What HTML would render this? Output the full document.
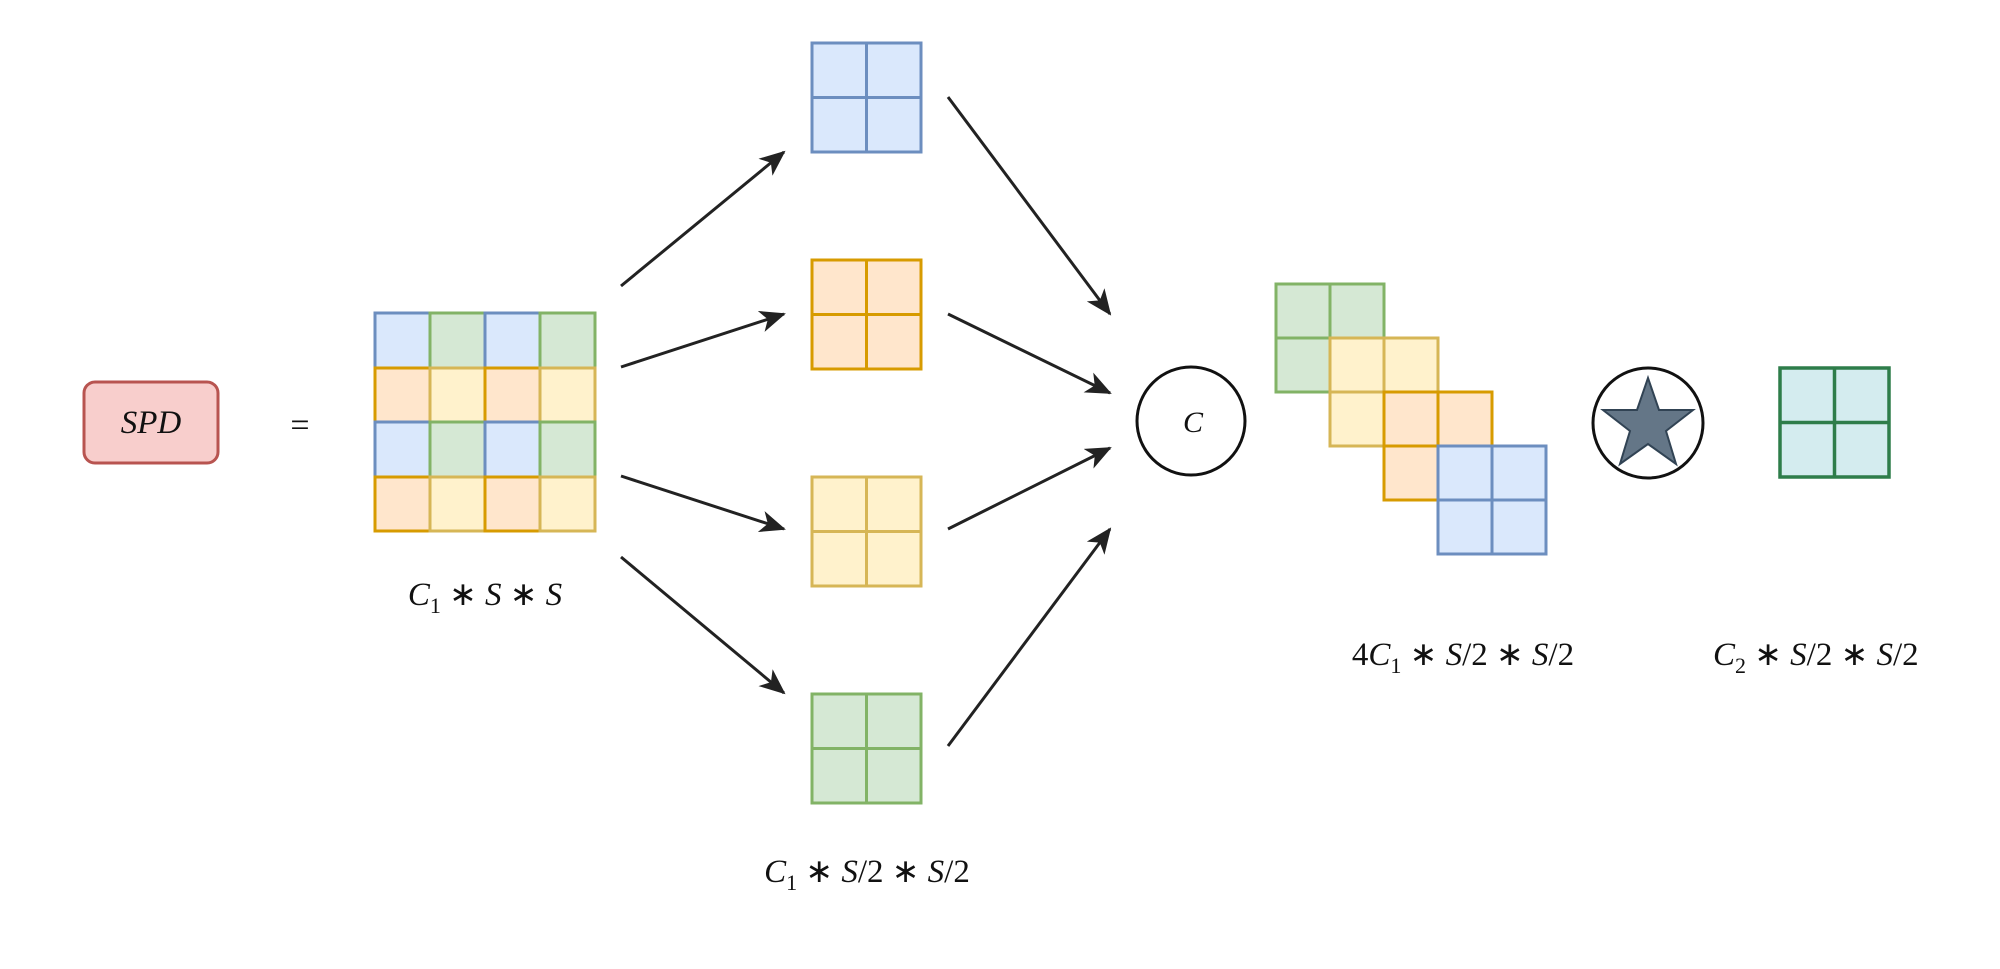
<!DOCTYPE html>
<html><head><meta charset="utf-8"><style>
html,body{margin:0;padding:0;background:#fff;}
svg{display:block}
text{font-family:"Liberation Serif",serif;font-style:italic;fill:#111;}
</style></head><body>
<svg width="2000" height="969" viewBox="0 0 2000 969" xmlns="http://www.w3.org/2000/svg">
<defs>
<marker id="a" markerWidth="10" markerHeight="10" refX="9" refY="5" orient="auto" markerUnits="userSpaceOnUse" viewBox="0 0 10 10">
<path d="M0,0 L10,5 L0,10 L3,5 z" fill="#222"/>
</marker>
<marker id="ah" markerWidth="26" markerHeight="22" refX="24" refY="11" orient="auto" markerUnits="userSpaceOnUse">
<path d="M0,0 L26,11 L0,22 L7,11 z" fill="#222"/>
</marker>
<clipPath id="clip"><rect x="0" y="0" width="1928" height="969"/></clipPath>
</defs>

<!-- SPD -->
<rect x="84" y="382" width="134" height="81" rx="11" fill="#f8cecc" stroke="#b85450" stroke-width="3"/>
<text x="151" y="433" font-size="33" text-anchor="middle">SPD</text>
<text x="300" y="436" font-size="34" text-anchor="middle" style="font-style:normal">=</text>

<!-- big grid -->
<g stroke-width="3">
<rect x="375" y="313" width="55" height="55" fill="#dae8fc" stroke="#6c8ebf"/>
<rect x="430" y="313" width="55" height="55" fill="#d5e8d4" stroke="#82b366"/>
<rect x="485" y="313" width="55" height="55" fill="#dae8fc" stroke="#6c8ebf"/>
<rect x="540" y="313" width="55" height="55" fill="#d5e8d4" stroke="#82b366"/>
<rect x="375" y="368" width="55" height="54" fill="#ffe6cc" stroke="#d79b00"/>
<rect x="430" y="368" width="55" height="54" fill="#fff2cc" stroke="#d6b656"/>
<rect x="485" y="368" width="55" height="54" fill="#ffe6cc" stroke="#d79b00"/>
<rect x="540" y="368" width="55" height="54" fill="#fff2cc" stroke="#d6b656"/>
<rect x="375" y="422" width="55" height="55" fill="#dae8fc" stroke="#6c8ebf"/>
<rect x="430" y="422" width="55" height="55" fill="#d5e8d4" stroke="#82b366"/>
<rect x="485" y="422" width="55" height="55" fill="#dae8fc" stroke="#6c8ebf"/>
<rect x="540" y="422" width="55" height="55" fill="#d5e8d4" stroke="#82b366"/>
<rect x="375" y="477" width="55" height="54" fill="#ffe6cc" stroke="#d79b00"/>
<rect x="430" y="477" width="55" height="54" fill="#fff2cc" stroke="#d6b656"/>
<rect x="485" y="477" width="55" height="54" fill="#ffe6cc" stroke="#d79b00"/>
<rect x="540" y="477" width="55" height="54" fill="#fff2cc" stroke="#d6b656"/>
</g>
<text x="485" y="605" font-size="33" text-anchor="middle">C<tspan font-size="22" dy="8" style="font-style:normal">1</tspan><tspan dy="-8" style="font-style:normal"> ∗ </tspan>S<tspan style="font-style:normal"> ∗ </tspan>S</text>

<!-- small grids -->
<g stroke-width="3">
<g fill="#dae8fc" stroke="#6c8ebf"><rect x="812" y="43" width="109" height="109"/><line x1="866.5" y1="43" x2="866.5" y2="152"/><line x1="812" y1="97.5" x2="921" y2="97.5"/></g>
<g fill="#ffe6cc" stroke="#d79b00"><rect x="812" y="260" width="109" height="109"/><line x1="866.5" y1="260" x2="866.5" y2="369"/><line x1="812" y1="314.5" x2="921" y2="314.5"/></g>
<g fill="#fff2cc" stroke="#d6b656"><rect x="812" y="477" width="109" height="109"/><line x1="866.5" y1="477" x2="866.5" y2="586"/><line x1="812" y1="531.5" x2="921" y2="531.5"/></g>
<g fill="#d5e8d4" stroke="#82b366"><rect x="812" y="694" width="109" height="109"/><line x1="866.5" y1="694" x2="866.5" y2="803"/><line x1="812" y1="748.5" x2="921" y2="748.5"/></g>
</g>
<text x="867" y="882" font-size="33" text-anchor="middle">C<tspan font-size="22" dy="8" style="font-style:normal">1</tspan><tspan dy="-8" style="font-style:normal"> ∗ </tspan>S<tspan style="font-style:normal">/2 ∗ </tspan>S<tspan style="font-style:normal">/2</tspan></text>

<!-- arrows -->
<g stroke="#222" stroke-width="3" fill="none" marker-end="url(#ah)">
<line x1="621" y1="286" x2="784" y2="152"/>
<line x1="621" y1="367" x2="784" y2="314"/>
<line x1="621" y1="476" x2="784" y2="529"/>
<line x1="621" y1="557" x2="784" y2="693"/>
<line x1="948" y1="97" x2="1110" y2="314"/>
<line x1="948" y1="314" x2="1110" y2="393"/>
<line x1="948" y1="529" x2="1110" y2="448"/>
<line x1="948" y1="746" x2="1110" y2="529"/>
</g>

<!-- concat circle -->
<circle cx="1191" cy="421" r="54" fill="#fff" stroke="#111" stroke-width="3"/>
<text x="1193" y="432" font-size="30" text-anchor="middle">C</text>

<!-- stacked -->
<g stroke-width="3">
<g fill="#d5e8d4" stroke="#82b366"><rect x="1276" y="284" width="108" height="108"/><line x1="1330" y1="284" x2="1330" y2="392"/><line x1="1276" y1="338" x2="1384" y2="338"/></g>
<g fill="#fff2cc" stroke="#d6b656"><rect x="1330" y="338" width="108" height="108"/><line x1="1384" y1="338" x2="1384" y2="446"/><line x1="1330" y1="392" x2="1438" y2="392"/></g>
<g fill="#ffe6cc" stroke="#d79b00"><rect x="1384" y="392" width="108" height="108"/><line x1="1438" y1="392" x2="1438" y2="500"/><line x1="1384" y1="446" x2="1492" y2="446"/></g>
<g fill="#dae8fc" stroke="#6c8ebf"><rect x="1438" y="446" width="108" height="108"/><line x1="1492" y1="446" x2="1492" y2="554"/><line x1="1438" y1="500" x2="1546" y2="500"/></g>
</g>
<text x="1463" y="665" font-size="33" text-anchor="middle"><tspan style="font-style:normal">4</tspan>C<tspan font-size="22" dy="8" style="font-style:normal">1</tspan><tspan dy="-8" style="font-style:normal"> ∗ </tspan>S<tspan style="font-style:normal">/2 ∗ </tspan>S<tspan style="font-style:normal">/2</tspan></text>

<!-- star circle -->
<circle cx="1648" cy="423" r="55" fill="#fff" stroke="#111" stroke-width="3"/>
<path d="M1648,378 L1659,410 L1693,410 L1666,431 L1676,464 L1648,444 L1620,464 L1630,431 L1603,410 L1637,410 Z" fill="#647687" stroke="#314354" stroke-width="2"/>

<!-- output grid -->
<g stroke="#2e7d4a" stroke-width="3.5" fill="#d4ecef">
<rect x="1780" y="368" width="109" height="109"/><line x1="1834.5" y1="368" x2="1834.5" y2="477"/><line x1="1780" y1="422.5" x2="1889" y2="422.5"/>
</g>
<g clip-path="url(#clip)">
<text x="1713" y="665" font-size="33">C<tspan font-size="22" dy="8" style="font-style:normal">2</tspan><tspan dy="-8" style="font-style:normal"> ∗ </tspan>S<tspan style="font-style:normal">/2 ∗ </tspan>S<tspan style="font-style:normal">/2</tspan></text>
</g>
</svg>
</body></html>
